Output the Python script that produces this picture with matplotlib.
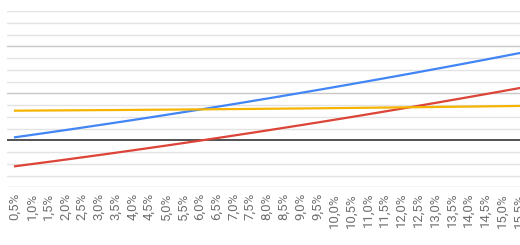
import numpy as np
import matplotlib
matplotlib.use("Agg")
import matplotlib.pyplot as plt

# rates on the category axis
rates = [0.5 * k for k in range(1, 32)]
rate_labels = [f"{r:.1f}%".replace(".", ",") for r in rates]

# series (chart units, minor grid step = 5)
blue = [1.28, 2.29, 3.31, 4.34, 5.39, 6.45, 7.52, 8.60, 9.70, 10.81,
        11.93, 13.07, 14.22, 15.38, 16.55, 17.74, 18.94, 20.15, 21.37, 22.61,
        23.86, 25.12, 26.40, 27.68, 28.98, 30.30, 31.62, 32.96, 34.31, 35.68,
        37.05]
red = [-11.05, -10.12, -9.18, -8.23, -7.26, -6.28, -5.29, -4.29, -3.27, -2.25,
       -1.21, -0.16, 0.91, 1.99, 3.08, 4.18, 5.30, 6.42, 7.56, 8.71,
       9.87, 11.05, 12.24, 13.44, 14.65, 15.87, 17.11, 18.36, 19.62, 20.89,
       22.18]
yellow = [12.60, 12.64, 12.69, 12.73, 12.78, 12.83, 12.87, 12.93, 12.98, 13.04,
          13.09, 13.15, 13.21, 13.28, 13.34, 13.41, 13.47, 13.54, 13.61, 13.69,
          13.76, 13.84, 13.92, 14.00, 14.08, 14.17, 14.25, 14.34, 14.43, 14.52,
          14.61]

fig = plt.figure(figsize=(5.2, 2.45), dpi=100)
ax = fig.add_axes([6.6 / 520, (245 - 187.3) / 245, 520.8 / 520, 176.3 / 245])

x = np.arange(len(rates))
ax.set_xlim(-0.5, len(rates) - 0.5)
ax.set_ylim(-20, 55)

# grid: light every 5, darker every 20, black zero line
for yv in range(-20, 56, 5):
    if yv == 0:
        continue
    col = "#c8c8c8" if yv % 20 == 0 else "#e3e3e3"
    ax.axhline(yv, color=col, lw=1.0, zorder=1)
ax.axhline(0, color="#333333", lw=1.2, zorder=2)

ax.plot(x, blue, color="#4285F4", lw=1.6, zorder=3)
ax.plot(x, red, color="#DB4437", lw=1.6, zorder=3)
ax.plot(x, yellow, color="#F4B400", lw=1.6, zorder=3)

ax.set_xticks(x)
ax.set_xticklabels(rate_labels, rotation=90, fontsize=9.5, color="#6f6f6f",
                   family=["Roboto", "DejaVu Sans"])
ax.tick_params(axis="x", length=0, pad=4)
ax.set_yticks([])
for s in ax.spines.values():
    s.set_visible(False)

fig.savefig("out.png", dpi=100)
